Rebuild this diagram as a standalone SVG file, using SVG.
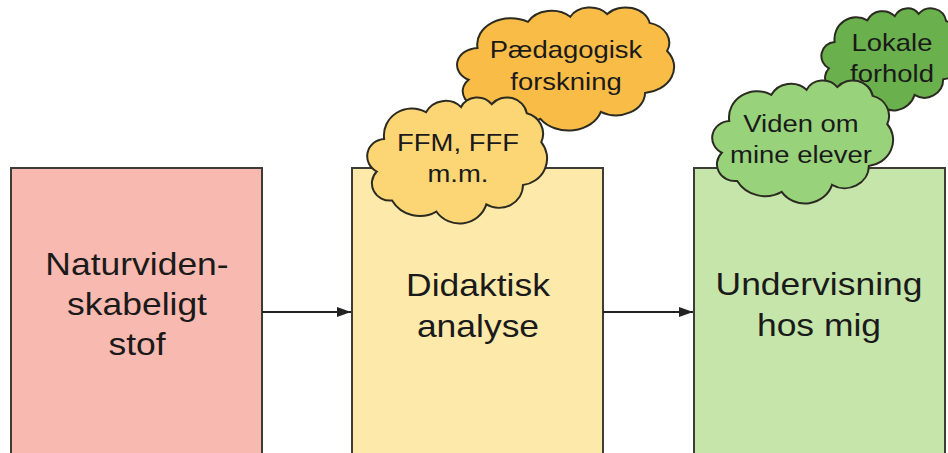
<svg xmlns="http://www.w3.org/2000/svg" xmlns:xlink="http://www.w3.org/1999/xlink" width="948" height="453" viewBox="0 0 948 453">
  <style>
    .box { stroke: #3d3d36; stroke-width: 2; }
    .cloud-outline { stroke: #2b2b22; stroke-width: 2; vector-effect: non-scaling-stroke; }
    .lbl { font-family: "Liberation Sans", Arial, sans-serif; fill: #1a1a1a; text-anchor: middle; }
    .big { font-size: 31px; }
    .small { font-size: 24px; }
    .conn { stroke: #222222; stroke-width: 2; fill: none; }
  </style>
  <defs>
    <!-- unit cloud outline, 100 x 100 -->
    <path id="cloud" class="cloud-outline" d="M 9.03 33.26 A 15.63 21.27 0 0 1 32.42 12.04 A 12.34 16.82 0 0 1 51.99 7.95 A 10.10 13.76 0 0 1 69.06 5.74 A 11.24 15.27 0 0 1 88.71 12.90 A 12.34 16.84 0 0 1 96.81 35.78 A 15.68 21.34 0 0 1 86.59 69.92 A 13.39 18.21 0 0 1 66.11 85.22 A 15.63 21.33 0 0 1 38.16 90.90 A 17.87 24.41 0 0 1 13.45 82.11 A 10.09 13.70 0 0 1 4.90 59.15 A 10.06 13.76 0 0 1 9.03 33.26 Z"/>
    <marker id="arrow" markerWidth="14" markerHeight="10" refX="14" refY="5" orient="auto" markerUnits="userSpaceOnUse">
      <path d="M0,0 L14,5 L0,10 Z" fill="#222222"/>
    </marker>
  </defs>

  <!-- boxes -->
  <g id="stof">
    <rect class="box" x="11" y="168" width="251" height="300" fill="#f8b9b0"/>
    <g transform="translate(137 0) scale(1.144 1)">
      <text class="lbl big" x="0" y="275">Naturviden-</text>
      <text class="lbl big" x="0" y="315">skabeligt</text>
      <text class="lbl big" x="0" y="355">stof</text>
    </g>
  </g>

  <g id="analyse">
    <rect class="box" x="352" y="168" width="251" height="300" fill="#fde9a9"/>
    <g transform="translate(478 0) scale(1.144 1)">
      <text class="lbl big" x="0" y="296">Didaktisk</text>
      <text class="lbl big" x="0" y="337">analyse</text>
    </g>
  </g>

  <g id="undervisning">
    <rect class="box" x="694" y="168" width="251" height="300" fill="#c6e5ab"/>
    <g transform="translate(819 0) scale(1.144 1)">
      <text class="lbl big" x="0" y="295">Undervisning</text>
      <text class="lbl big" x="0" y="336">hos mig</text>
    </g>
  </g>

  <!-- connectors -->
  <g id="connectors">
    <line class="conn" x1="262" y1="312" x2="351" y2="312" marker-end="url(#arrow)"/>
    <line class="conn" x1="603" y1="312" x2="693" y2="312" marker-end="url(#arrow)"/>
  </g>

  <!-- clouds -->
  <g id="paedagogisk">
    <use xlink:href="#cloud" href="#cloud" transform="translate(458 7) scale(2.16 1.23)" fill="#f9bd47"/>
    <g transform="translate(566 0) scale(1.144 1)">
      <text class="lbl small" x="0" y="58">Pædagogisk</text>
      <text class="lbl small" x="0" y="90">forskning</text>
    </g>
  </g>

  <g id="ffm">
    <use xlink:href="#cloud" href="#cloud" transform="translate(368 97) scale(1.79 1.26)" fill="#fcd675"/>
    <g transform="translate(458 0) scale(1.144 1)">
      <text class="lbl small" x="0" y="151">FFM, FFF</text>
      <text class="lbl small" x="0" y="182">m.m.</text>
    </g>
  </g>

  <g id="lokale">
    <use xlink:href="#cloud" href="#cloud" transform="translate(822 8) scale(1.40 1.02)" fill="#6ab04c"/>
    <g transform="translate(892 0) scale(1.144 1)">
      <text class="lbl small" x="0" y="51">Lokale</text>
      <text class="lbl small" x="0" y="82">forhold</text>
    </g>
  </g>

  <g id="viden">
    <use xlink:href="#cloud" href="#cloud" transform="translate(713 80) scale(1.80 1.23)" fill="#98d27a"/>
    <g transform="translate(801 0) scale(1.144 1)">
      <text class="lbl small" x="0" y="132">Viden om</text>
      <text class="lbl small" x="0" y="163">mine elever</text>
    </g>
  </g>
</svg>
